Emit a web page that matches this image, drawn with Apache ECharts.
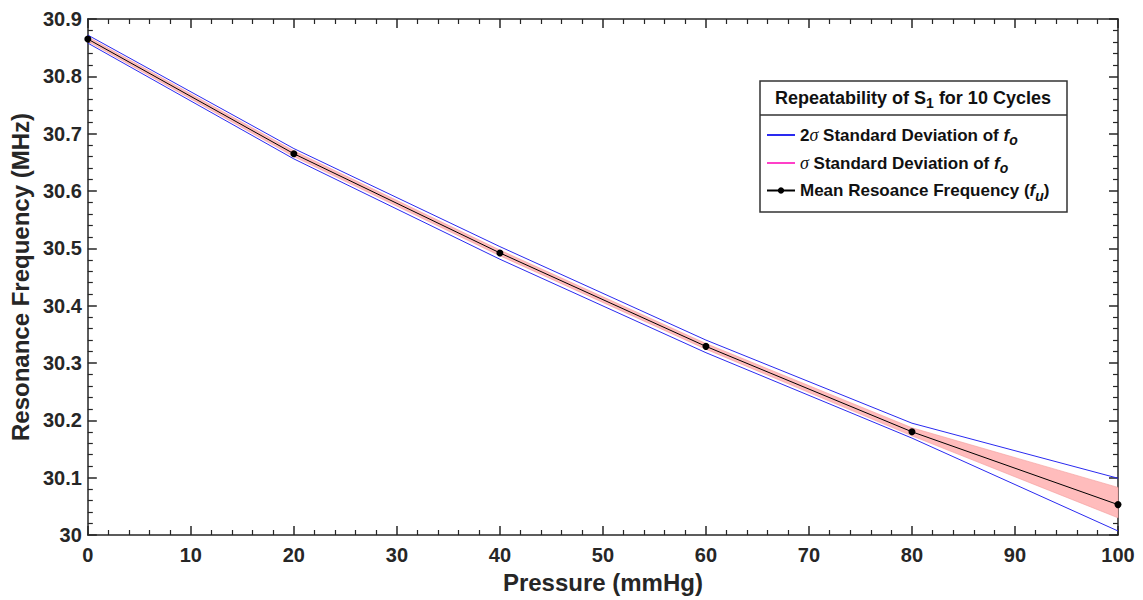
<!DOCTYPE html>
<html>
<head>
<meta charset="utf-8">
<script src="https://cdn.jsdelivr.net/npm/echarts@6/dist/echarts.min.js"></script>
<style>html,body{margin:0;padding:0;background:#fff}#c{width:1143px;height:600px}</style>
</head>
<body>
<div id="c"></div>
<script>
// ---- data ----
var pressure = [0, 20, 40, 60, 80, 100];
var meanFreq = [30.865, 30.665, 30.492, 30.329, 30.180, 30.053];
var upper2s  = [30.872, 30.674, 30.503, 30.340, 30.195, 30.099];
var lower2s  = [30.858, 30.656, 30.481, 30.318, 30.169, 30.007];
var upper1s  = [30.869, 30.670, 30.497, 30.334, 30.187, 30.083];
var lower1s  = [30.861, 30.660, 30.487, 30.324, 30.173, 30.030];
var xTicks = {min: 0, max: 100, interval: 10};
var yTicks = {min: 30, max: 30.9, interval: 0.1};
var legendTitle = 'Repeatability of S{sub|1} for 10 Cycles';
var names = {
  s2: '2σ Standard Deviation of fo',
  s1: 'σ Standard Deviation of fo',
  mean: 'Mean Resoance Frequency (fu)'
};
var legendRich = {};
legendRich[names.s2] = '{t|2}{sig|σ}{t| Standard Deviation of }{it|f}{sub|o}';
legendRich[names.s1] = '{sig|σ}{t| Standard Deviation of }{it|f}{sub|o}';
legendRich[names.mean] = '{t|Mean Resoance Frequency (}{it|f}{sub|u}{t|)}';

function pairs(ys) { return pressure.map(function (x, i) { return [x, ys[i]]; }); }
var bandData = pressure.map(function (x, i) { return [x, lower1s[i], upper1s[i]]; });

var FONT = '"Liberation Sans", Arial, sans-serif';
var AX = '#262626';
var BLUE = '#2a2af0';
var PINK = '#ff40c8';

var chart = echarts.init(document.getElementById('c'), null, {renderer: 'svg'});

function baseX(show) {
  return {
    type: 'value', min: xTicks.min, max: xTicks.max, interval: xTicks.interval,
    position: show ? 'bottom' : 'top',
    axisLine: {show: true, onZero: false, lineStyle: {color: AX, width: 1.5}},
    axisTick: {show: true, inside: true, length: 9, lineStyle: {color: AX, width: 1.5}},
    minorTick: {show: true, splitNumber: 5, length: 5, lineStyle: {color: AX, width: 1.2}},
    splitLine: {show: false},
    axisLabel: {show: show, color: AX, fontFamily: FONT, fontWeight: 'bold', fontSize: 20, margin: 10},
    name: show ? 'Pressure (mmHg)' : '', nameLocation: 'middle', nameGap: 35,
    nameTextStyle: {color: AX, fontFamily: FONT, fontWeight: 'bold', fontSize: 24}
  };
}
function baseY(show) {
  return {
    type: 'value', min: yTicks.min, max: yTicks.max, interval: yTicks.interval,
    position: show ? 'left' : 'right',
    axisLine: {show: true, onZero: false, lineStyle: {color: AX, width: 1.5}},
    axisTick: {show: true, inside: true, length: 9, lineStyle: {color: AX, width: 1.5}},
    minorTick: {show: true, splitNumber: 5, length: 5, lineStyle: {color: AX, width: 1.2}},
    splitLine: {show: false},
    axisLabel: {show: show, color: AX, fontFamily: FONT, fontWeight: 'bold', fontSize: 20, margin: 6,
      formatter: function (v) { return String(Math.round(v * 10) / 10); }},
    name: show ? 'Resonance Frequency (MHz)' : '', nameLocation: 'middle', nameGap: 54,
    nameTextStyle: {color: AX, fontFamily: FONT, fontWeight: 'bold', fontSize: 24}
  };
}

var rich = {
  t: {fontFamily: FONT, fontWeight: 'bold', fontSize: 17, color: '#111', lineHeight: 24, verticalAlign: 'middle'},
  sig: {fontFamily: '"Liberation Serif", "DejaVu Serif", serif', fontStyle: 'italic', fontSize: 18, color: '#111', lineHeight: 24, verticalAlign: 'middle'},
  it: {fontFamily: FONT, fontWeight: 'bold', fontStyle: 'italic', fontSize: 17, color: '#111', lineHeight: 24, verticalAlign: 'middle'},
  sub: {fontFamily: FONT, fontWeight: 'bold', fontStyle: 'italic', fontSize: 14, color: '#111', lineHeight: 14, verticalAlign: 'bottom'}
};
var noSymbol = {color: 'rgba(0,0,0,0)', borderWidth: 0, opacity: 0};

chart.setOption({
  animation: false,
  backgroundColor: '#fff',
  grid: {left: 87, right: 25, top: 19, bottom: 65, containLabel: false},
  xAxis: [baseX(true), baseX(false)],
  yAxis: [baseY(true), baseY(false)],
  legend: {
    orient: 'vertical', left: 761, top: 121, z: 10,
    itemWidth: 28, itemHeight: 8, itemGap: 7,
    data: [
      {name: names.s2, itemStyle: noSymbol},
      {name: names.s1, itemStyle: noSymbol},
      {name: names.mean}
    ],
    formatter: function (n) { return legendRich[n] || n; },
    textStyle: {rich: rich},
    selectedMode: false
  },
  graphic: [
    {type: 'rect', z: 5, shape: {x: 760, y: 81, width: 307, height: 131},
      style: {fill: '#fff', stroke: '#333', lineWidth: 1.5}},
    {type: 'line', z: 6, shape: {x1: 760, y1: 115, x2: 1067, y2: 115},
      style: {stroke: '#333', lineWidth: 1.5}},
    {type: 'text', z: 7, x: 913, y: 98,
      style: {text: legendTitle, align: 'center', verticalAlign: 'middle',
        rich: {sub: {fontFamily: FONT, fontWeight: 'bold', fontSize: 14, fill: '#111', lineHeight: 14, verticalAlign: 'bottom'}},
        fontFamily: FONT, fontWeight: 'bold', fontSize: 18, fill: '#111', lineHeight: 24}}
  ],
  series: [
    {name: names.s1, type: 'line', data: [], symbol: 'none', lineStyle: {color: PINK, width: 1}, itemStyle: {color: PINK}},
    {name: 'σ band', type: 'custom', data: bandData, z: 2, silent: true,
      encode: {x: 0, y: [1, 2]},
      renderItem: function (params, api) {
        if (params.dataIndex !== 0) return null;
        var up = [], lo = [];
        for (var i = 0; i < bandData.length; i++) {
          up.push(api.coord([bandData[i][0], bandData[i][2]]));
          lo.push(api.coord([bandData[i][0], bandData[i][1]]));
        }
        var poly = up.concat(lo.reverse());
        return {type: 'polygon', shape: {points: poly}, style: {fill: '#ffbcbc', stroke: '#f39a9a', lineWidth: 0.6}};
      }},
    {name: names.s2, type: 'line', data: pairs(upper2s), symbol: 'none',
      itemStyle: {color: BLUE}, lineStyle: {color: BLUE, width: 1}, z: 3},
    {name: names.s2, type: 'line', data: pairs(lower2s), symbol: 'none',
      itemStyle: {color: BLUE}, lineStyle: {color: BLUE, width: 1}, z: 3},
    {name: names.mean, type: 'line', data: pairs(meanFreq), symbol: 'circle', symbolSize: 7,
      itemStyle: {color: '#000'}, lineStyle: {color: '#000', width: 1}, z: 4, clip: false}
  ]
});
</script>
</body>
</html>
